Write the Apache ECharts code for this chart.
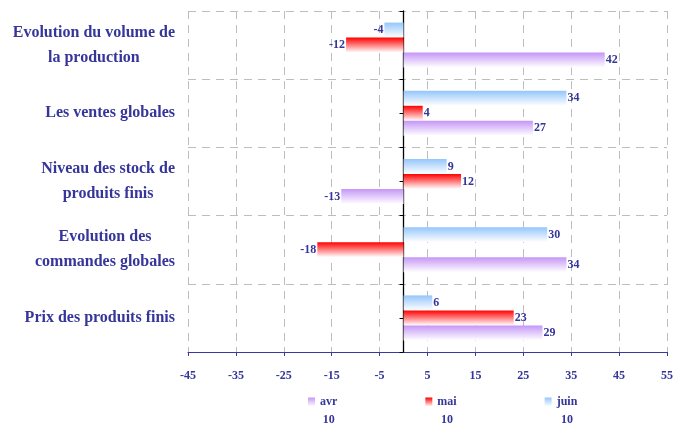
<!DOCTYPE html>
<html><head><meta charset="utf-8">
<script src="https://cdn.jsdelivr.net/npm/echarts@6/dist/echarts.min.js"></script>
<style>html,body{margin:0;padding:0;background:#fff}#c{width:681px;height:426px}</style>
</head><body><div id="c"></div>
<script>
const categories = ["Evolution du volume de\nla production", "Les ventes globales", "Niveau des stock de\nproduits finis", "Evolution des\ncommandes globales", "Prix des produits finis"];
const avr = [42, 27, -13, 34, 29];
const mai = [-12, 4, 12, -18, 23];
const juin = [-4, 34, 9, 30, 6];
const seriesNames = ["avr 10", "mai 10", "juin 10"];
const xTicks = {min: -45, max: 55, interval: 10};

const txt = '#35359a';
const ff = 'Liberation Serif, serif';
function grad(c) {
  return new echarts.graphic.LinearGradient(0, 0, 0, 1, [{offset: 0, color: c}, {offset: 1, color: '#ffffff'}]);
}
const colors = {avr: '#c596f7', mai: '#ff0000', juin: '#94c6fb'};
function lbl() {
  return {show: true, position: 'right', distance: 1, color: txt, fontFamily: ff, fontWeight: 'bold', fontSize: 12,
    formatter: p => String(p.value)};
}
function mk(name, data, c) {
  return {
    name: name, type: 'bar', data: data.map(v => ({value: v, label: {position: v < 0 ? 'left' : 'right'}})),
    barWidth: 15, barGap: '0%', itemStyle: {color: grad(c)}, label: lbl()
  };
}
const catStyle = {color: txt, fontFamily: ff, fontSize: 16, fontWeight: 'bold', lineHeight: 25, align: 'center'};
const chart = echarts.init(document.getElementById('c'));
chart.setOption({
  animation: false,
  grid: {left: 188, right: 14, top: 11, bottom: 74},
  xAxis: {
    type: 'value', min: xTicks.min, max: xTicks.max, interval: xTicks.interval,
    axisLine: {show: true, lineStyle: {color: '#3a3a9c', width: 1}},
    axisTick: {show: true, length: 4, lineStyle: {color: '#3a3a9c'}},
    axisLabel: {color: txt, fontFamily: ff, fontWeight: 'bold', fontSize: 12, margin: 18},
    splitLine: {show: true, lineStyle: {color: '#bdbdbd', type: [8, 6]}}
  },
  yAxis: [{
    type: 'category', data: categories, inverse: true,
    axisLine: {show: false, onZero: false}, axisTick: {show: false},
    axisLabel: {color: txt, fontFamily: ff, fontSize: 16, fontWeight: 'bold', lineHeight: 25, margin: 13, align: 'right',
      formatter: v => v.split('\n').map(l => '{c|' + l + '}').join('\n'), rich: {c: catStyle}},
    splitLine: {show: true, lineStyle: {color: '#bdbdbd', type: [8, 6]}}
  }, {
    type: 'category', data: ['a','b','c','d','e','f','g','h','i','j'], position: 'left',
    axisLine: {show: true, onZero: true, lineStyle: {color: '#000', width: 1.3}},
    axisTick: {show: true, length: 4, lineStyle: {color: '#000'}},
    axisLabel: {show: false}, splitLine: {show: false}
  }],
  legend: {
    data: seriesNames, left: 303, top: 373, itemGap: 88, itemWidth: 7, itemHeight: 9, icon: 'rect',
    formatter: n => '{s| }\n{a|' + n.split(' ')[0] + '}\n{b|' + n.split(' ')[1] + '}',
    textStyle: {color: txt, fontFamily: ff, fontWeight: 'bold', fontSize: 12,
      rich: {s: {lineHeight: 18, fontSize: 12}, a: {lineHeight: 18, fontSize: 12, color: txt, fontFamily: ff, fontWeight: 'bold', align: 'center'},
             b: {lineHeight: 18, fontSize: 12, color: txt, fontFamily: ff, fontWeight: 'bold', align: 'center'}}}
  },
  series: [mk(seriesNames[2], juin, colors.juin), mk(seriesNames[1], mai, colors.mai), mk(seriesNames[0], avr, colors.avr)]
});
</script></body></html>
